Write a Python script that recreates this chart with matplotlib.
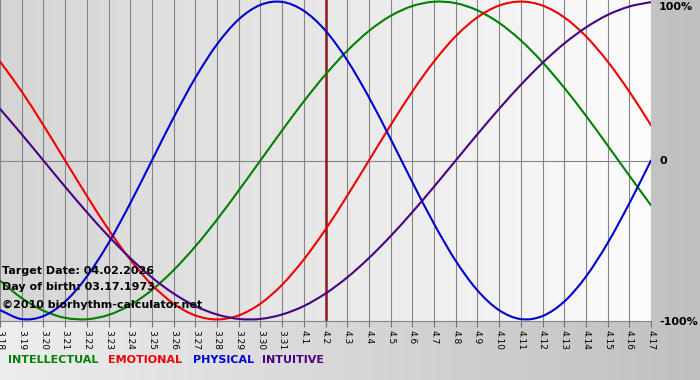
import matplotlib
matplotlib.use('Agg')
import matplotlib.pyplot as plt
import numpy as np
from matplotlib.colors import LinearSegmentedColormap
from matplotlib.path import Path
from matplotlib.patches import PathPatch

# days shown on the x axis (3.18 .. 4.17)
days = ['3.18', '3.19', '3.20', '3.21', '3.22', '3.23', '3.24', '3.25', '3.26',
        '3.27', '3.28', '3.29', '3.30', '3.31', '4.1', '4.2', '4.3', '4.4', '4.5',
        '4.6', '4.7', '4.8', '4.9', '4.10', '4.11', '4.12', '4.13', '4.14', '4.15',
        '4.16', '4.17']

physical = [-0.942, -0.998, -0.979, -0.888, -0.731, -0.520, -0.270, 0.0, 0.270,
            0.520, 0.731, 0.888, 0.979, 0.998, 0.942, 0.817, 0.631, 0.398, 0.136,
            -0.136, -0.398, -0.631, -0.817, -0.942, -0.998, -0.979, -0.888, -0.731,
            -0.520, -0.270, 0.0]
emotional = [0.623, 0.434, 0.222, 0.0, -0.222, -0.434, -0.623, -0.782, -0.901,
             -0.975, -1.0, -0.975, -0.901, -0.782, -0.623, -0.434, -0.222, 0.0,
             0.222, 0.434, 0.623, 0.782, 0.901, 0.975, 1.0, 0.975, 0.901, 0.782,
             0.623, 0.434, 0.222]
intellectual = [-0.756, -0.866, -0.945, -0.990, -0.999, -0.972, -0.910, -0.815,
                -0.690, -0.541, -0.372, -0.189, 0.0, 0.189, 0.372, 0.541, 0.690,
                0.815, 0.910, 0.972, 0.999, 0.990, 0.945, 0.866, 0.756, 0.618,
                0.458, 0.282, 0.095, -0.095, -0.282]
intuitive = [0.325, 0.165, 0.0, -0.165, -0.325, -0.476, -0.614, -0.736, -0.837,
             -0.916, -0.969, -0.997, -0.997, -0.969, -0.916, -0.837, -0.736,
             -0.614, -0.476, -0.325, -0.165, 0.0, 0.165, 0.325, 0.476, 0.614,
             0.736, 0.837, 0.916, 0.969, 0.997]

target_day = '4.2'
info_lines = ['Target Date: 04.02.2026', 'Day of birth: 03.17.1973',
              '\u00a92010 biorhythm-calculator.net']

series = [('INTELLECTUAL', intellectual, '#008000'),
          ('EMOTIONAL', emotional, '#f00000'),
          ('PHYSICAL', physical, '#0000d0'),
          ('INTUITIVE', intuitive, '#4b0082')]


def smooth_path(xs, ys):
    """Catmull-Rom curve through the points, as a bezier path"""
    pts = np.column_stack([xs, ys]).astype(float)
    ext = np.vstack([2 * pts[0] - pts[1], pts, 2 * pts[-1] - pts[-2]])
    verts = [pts[0]]
    codes = [Path.MOVETO]
    for i in range(1, len(ext) - 2):
        p0, p1, p2, p3 = ext[i - 1], ext[i], ext[i + 1], ext[i + 2]
        verts += [p1 + (p2 - p0) / 6, p2 - (p3 - p1) / 6, p2]
        codes += [Path.CURVE4] * 3
    return Path(verts, codes)


W, H = 700, 380
fig = plt.figure(figsize=(W / 100, H / 100), dpi=100)

# outer background gradient
grad = np.linspace(0, 1, 256).reshape(1, -1)
bg = fig.add_axes([0, 0, 1, 1], zorder=-2)
bg.imshow(grad, cmap=LinearSegmentedColormap.from_list('outer', ['#ededed', '#c0c0c0']),
          aspect='auto', extent=[0, 1, 0, 1])
bg.axis('off')

# plot area: 0..651 px wide, 0..321 px tall
ax = fig.add_axes([0, 1 - 321 / H, 651 / W, 321 / H])
x = np.arange(len(days))
ax.imshow(grad, cmap=LinearSegmentedColormap.from_list('inner', ['#d5d5d5', '#fcfcfc']),
          aspect='auto', extent=[0, len(days) - 1, -1.01, 1.01], zorder=0)

for xi in x:
    ax.axvline(xi, color='#858585', lw=0.8, zorder=1)
ax.axhline(0, color='#858585', lw=0.8, zorder=1)
ax.axvline(days.index(target_day), color='#8b1a1a', lw=1.8, zorder=2)

for name, vals, col in series:
    ax.add_patch(PathPatch(smooth_path(x, vals), facecolor='none', edgecolor=col,
                           lw=1.5, zorder=3, capstyle='round', joinstyle='round'))

ax.set_xlim(0, len(days) - 1)
ax.set_ylim(-1.01, 1.01)
ax.set_xticks(x)
ax.set_xticklabels(days, rotation=270, fontsize=6.5)
ax.tick_params(axis='x', length=4, color='#707070', pad=2.5)
ax.set_yticks([])
for s in ['top', 'left', 'right']:
    ax.spines[s].set_visible(False)
ax.spines['bottom'].set_color('#858585')

# right side labels
for txt, py in [('100%', 7), ('0', 161), ('-100%', 322)]:
    fig.text(659 / W, 1 - py / H, txt, fontsize=8, fontweight='bold',
             ha='left', va='center')

# info text in the bottom-left
for txt, py in zip(info_lines, [271, 287, 305]):
    ax.text(2 / 651, 1 - py / 321, txt, transform=ax.transAxes, fontsize=8,
            fontweight='bold', ha='left', va='center', zorder=5)

# legend line
for (name, vals, col), px in zip(series, [8, 108, 193, 262]):
    fig.text(px / W, 1 - 360 / H, name, color=col, fontsize=8, fontweight='bold',
             ha='left', va='center')

fig.savefig('out.png', dpi=100)
